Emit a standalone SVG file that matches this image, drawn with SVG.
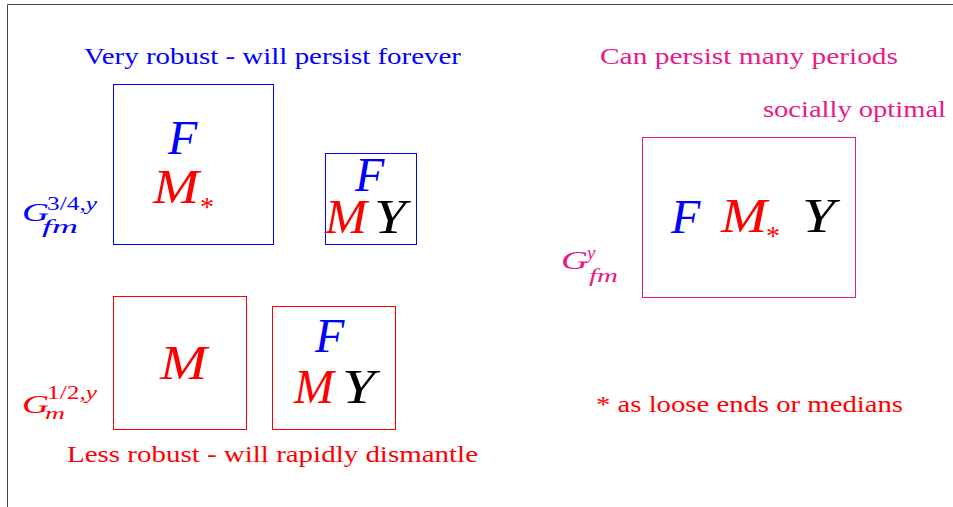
<svg xmlns="http://www.w3.org/2000/svg" width="953" height="507" viewBox="0 0 953 507">
<style>
.t{font-family:"Liberation Serif","DejaVu Serif",serif;font-size:23px}
.m{font-family:"Liberation Serif","DejaVu Serif",serif;font-style:italic;font-size:48px}
.st{font-family:"Liberation Serif","DejaVu Serif",serif;font-size:28px}
.g{font-family:"Liberation Serif","DejaVu Serif",serif;font-style:italic;font-size:26px}
.s{font-family:"Liberation Serif","DejaVu Serif",serif;font-size:18px}
.si{font-family:"Liberation Serif","DejaVu Serif",serif;font-style:italic;font-size:19px}
.b{fill:#0000ff}.r{fill:#ff0000}.k{fill:#000}.p{fill:#e8198b}
.box{fill:none;stroke-width:1}
</style>
<rect x="0" y="0" width="953" height="507" fill="#fff"/>
<path d="M7.5 507 V4.5 H953" fill="none" stroke="#444" stroke-width="1"/>

<text class="t b" x="84" y="64" textLength="377" lengthAdjust="spacingAndGlyphs">Very robust - will persist forever</text>
<text class="t p" x="600" y="64" textLength="298" lengthAdjust="spacingAndGlyphs">Can persist many periods</text>
<text class="t p" x="763" y="117" textLength="183" lengthAdjust="spacingAndGlyphs">socially optimal</text>
<text class="t r" x="596" y="412" textLength="307" lengthAdjust="spacingAndGlyphs">* as loose ends or medians</text>
<text class="t r" x="67" y="462" textLength="411" lengthAdjust="spacingAndGlyphs">Less robust - will rapidly dismantle</text>

<g id="n1">
<rect class="box" x="113.5" y="84.5" width="160" height="160" stroke="#0000ff"/>
<text class="m b" x="168" y="154">F</text>
<text class="m r" x="153" y="203" textLength="46" lengthAdjust="spacingAndGlyphs">M</text>
<text class="st r" x="200" y="216">*</text>
</g>
<g id="n2">
<rect class="box" x="325.5" y="153.5" width="91" height="91" stroke="#0000ff"/>
<text class="m b" x="355" y="191">F</text>
<text class="m r" x="325" y="233" textLength="42" lengthAdjust="spacingAndGlyphs">M</text>
<text class="m k" x="374" y="233" textLength="32" lengthAdjust="spacingAndGlyphs">Y</text>
</g>
<g id="n3">
<rect class="box" x="113.5" y="296.5" width="133" height="133" stroke="#ff0000"/>
<text class="m r" x="160" y="379" textLength="47" lengthAdjust="spacingAndGlyphs">M</text>
</g>
<g id="n4">
<rect class="box" x="272.5" y="306.5" width="123" height="123" stroke="#ff0000"/>
<text class="m b" x="315" y="352">F</text>
<text class="m r" x="294" y="403" textLength="40" lengthAdjust="spacingAndGlyphs">M</text>
<text class="m k" x="342" y="403" textLength="33" lengthAdjust="spacingAndGlyphs">Y</text>
</g>
<g id="n5">
<rect class="box" x="642.5" y="137.5" width="213" height="160" stroke="#e8198b"/>
<text class="m b" x="671" y="233">F</text>
<text class="m r" x="721" y="232" textLength="46" lengthAdjust="spacingAndGlyphs">M</text>
<text class="st r" x="766" y="245">*</text>
<text class="m k" x="802" y="232" textLength="33" lengthAdjust="spacingAndGlyphs">Y</text>
</g>

<g id="labels">
<text class="g b" x="22" y="221" textLength="27" lengthAdjust="spacingAndGlyphs">G</text>
<text class="s b" x="47" y="210" textLength="50" lengthAdjust="spacingAndGlyphs">3/4,<tspan font-style="italic">y</tspan></text>
<text class="si b" x="42" y="233" textLength="36" lengthAdjust="spacingAndGlyphs">fm</text>
<text class="g r" x="22" y="413" textLength="27" lengthAdjust="spacingAndGlyphs">G</text>
<text class="s r" x="47" y="399" textLength="50" lengthAdjust="spacingAndGlyphs">1/2,<tspan font-style="italic">y</tspan></text>
<text class="si r" x="45" y="419" font-size="16" style="font-size:16px" textLength="20" lengthAdjust="spacingAndGlyphs">m</text>
<text class="g p" x="561" y="269" textLength="27" lengthAdjust="spacingAndGlyphs">G</text>
<text class="si p" x="587" y="259">y</text>
<text class="si p" x="589" y="282" textLength="29" lengthAdjust="spacingAndGlyphs">fm</text>
</g>
<g id="connectors"></g>
</svg>
